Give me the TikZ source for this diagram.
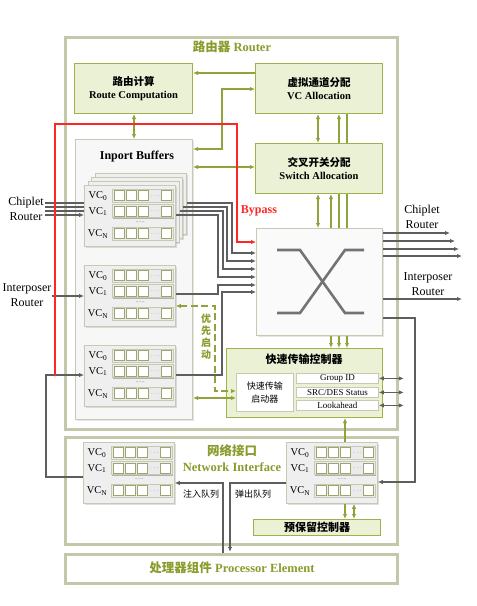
\documentclass[tikz,border=0pt]{standalone}
\usepackage{fontspec}
\setmainfont{Liberation Serif}
\newfontfamily\cjk{Noto Sans CJK SC}
\usetikzlibrary{arrows.meta,shadows}
\definecolor{olv}{HTML}{8FA33B}
\definecolor{olvtext}{HTML}{8A9C2C}
\definecolor{gfill}{HTML}{EBF1D5}
\definecolor{gdraw}{HTML}{9DB24A}
\definecolor{odraw}{HTML}{C3C8AB}
\definecolor{cdraw}{HTML}{C6C9B4}
\definecolor{cfill}{HTML}{EFEFEF}
\definecolor{lgray}{HTML}{5E5E5E}
\definecolor{rline}{HTML}{FF2626}
\definecolor{celld}{HTML}{9EA56E}
\newcommand{\myfs}[1]{\fontsize{#1}{#1}\selectfont}
\tikzset{
 outerbox/.style={draw=odraw, line width=2.5pt, fill=white, anchor=north west, inner sep=0pt},
 gbox/.style={draw=gdraw, line width=1pt, fill=gfill, anchor=north west, inner sep=0pt, align=center},
 card/.style={draw=cdraw, line width=0.8pt, fill=cfill, anchor=north west, inner sep=0pt, minimum width=91pt, minimum height=61pt, drop shadow={opacity=0.25, shadow xshift=1.2pt, shadow yshift=-1.2pt}},
 wbox/.style={draw=cdraw, line width=0.8pt, fill=white, anchor=north west, inner sep=0pt, align=center},
 oa/.style={draw=olv, line width=1.2pt, -{Latex[length=5pt,width=4.5pt]}},
 od/.style={draw=olv, line width=1.2pt, {Latex[length=5pt,width=4.5pt]}-{Latex[length=5pt,width=4.5pt]}},
 ol/.style={draw=olv, line width=1.2pt},
 ga/.style={draw=lgray, line width=1.2pt, -{Latex[length=5pt,width=4.5pt]}},
 gd/.style={draw=lgray, line width=1.2pt, {Latex[length=5pt,width=4.5pt]}-{Latex[length=5pt,width=4.5pt]}},
 gl/.style={draw=lgray, line width=1.2pt},
 ra/.style={draw=rline, line width=1.2pt, -{Latex[length=5pt,width=4.5pt]}},
 ttl/.style={text=olvtext, font=\myfs{12.5}\bfseries, inner sep=0pt},
 lbl/.style={font=\fontsize{12}{14.5}\selectfont, align=center, inner sep=0pt},
}
\newcommand{\vcrow}[3]{%
  \node[font=\myfs{10.5}, inner sep=0pt] at ({#1+14},{#2}) {VC\textsubscript{#3}};
  \fill[black!30] ({#1+29.2},{#2-5.8}) rectangle ({#1+90.2},{#2+7.2});
  \draw[draw=cdraw, fill=black!8, line width=0.6pt] ({#1+28},{#2-7}) rectangle ({#1+89},{#2+6});
  \foreach \cx in {30,42,54,77}{%
    \draw[draw=celld, fill=white, line width=0.7pt] ({#1+\cx},{#2-5.3}) rectangle ({#1+\cx+10.3},{#2+4.8});}
  \node[font=\myfs{6}, inner sep=0pt, text=black!55] at ({#1+71.5},{#2-0.3}) {$\cdots$};
}
\newcommand{\vccard}[3]{%
  \node[card] (#1) at (#2,#3) {};
  \vcrow{#2}{#3+11}{0}
  \vcrow{#2}{#3+26.5}{1}
  \node[font=\myfs{6}, inner sep=0pt, text=black!50] at ({#2+56},{#3+37}) {......};
  \vcrow{#2}{#3+49}{N}
}
\begin{document}
\begin{tikzpicture}[x=1pt,y=-1pt]
\useasboundingbox (0,0) rectangle (477,606);
% outer boxes
\node[outerbox, minimum width=332pt, minimum height=392pt] (router) at (64,36) {};
\node[outerbox, minimum width=332pt, minimum height=107pt] (ni) at (64,436) {};
\node[outerbox, minimum width=332pt, minimum height=29pt] (pe) at (64,553) {};
\node[ttl] (routertitle) at (232,47) {{\cjk 路由器} Router};
\node[ttl] (nititle) at (232,451) {\cjk 网络接口};
\node[ttl] (nititleen) at (232,467) {Network Interface};
\node[ttl] (petitle) at (232,568) {{\cjk 处理器组件} Processor Element};
% router blocks
\node[gbox, minimum width=118pt, minimum height=50pt, font=\fontsize{10.5}{13}\selectfont\bfseries] (rc) at (74,63) {{\cjk 路由计算}\\Route Computation};
\node[gbox, minimum width=127pt, minimum height=50pt, font=\fontsize{10.5}{13}\selectfont\bfseries] (vca) at (255,63) {{\cjk 虚拟通道分配}\\VC Allocation};
\node[gbox, minimum width=127pt, minimum height=50pt, font=\fontsize{10.5}{13}\selectfont\bfseries] (sa) at (255,143) {{\cjk 交叉开关分配}\\Switch Allocation};
\node[draw=cdraw, line width=1pt, fill=black!3, anchor=north west, inner sep=0pt, minimum width=117pt, minimum height=280pt, drop shadow={opacity=0.2, shadow xshift=1pt, shadow yshift=-1pt}] (inport) at (75,139) {};
\node[font=\myfs{12}\bfseries, inner sep=0pt] (inporttitle) at (137,157) {Inport Buffers};
\node[draw=cdraw, line width=1pt, fill=black!2, anchor=north west, inner sep=0pt, minimum width=126pt, minimum height=107pt, drop shadow={opacity=0.2, shadow xshift=1pt, shadow yshift=-1pt}] (xbar) at (256,228) {};
\draw[draw=black!55, line width=2.6pt] (277,250) -- (300,250) -- (345,313) -- (364,313);
\draw[draw=black!55, line width=2.6pt] (364,250) -- (345,250) -- (300,313) -- (277,313);
\node[gbox, minimum width=156pt, minimum height=69pt] (fast) at (226,348) {};
\node[font=\cjk\myfs{11}\bfseries, inner sep=0pt] (fasttitle) at (304,359) {快速传输控制器};
\node[wbox, minimum width=57pt, minimum height=38pt, font=\cjk\fontsize{9}{13}\selectfont] (starter) at (236,373) {快速传输\\启动器};
\node[wbox, minimum width=82pt, minimum height=10pt, font=\myfs{9}] (gid) at (296,373) {Group ID};
\node[wbox, minimum width=82pt, minimum height=10pt, font=\myfs{9}] (srcdes) at (296,387) {SRC/DES Status};
\node[wbox, minimum width=82pt, minimum height=10pt, font=\myfs{9}] (look) at (296,400) {Lookahead};
% VC cards
\node[card] (g1d) at (95,173) {};
\node[card] (g1c) at (91.3,177) {};
\node[card] (g1b) at (87.7,181) {};
\vccard{g1}{84}{185}
\vccard{g2}{84}{265}
\vccard{g3}{84}{345}
\vccard{nil}{83}{442}
\vccard{nir}{286}{442}
\node[gbox, minimum width=127pt, minimum height=16pt, font=\cjk\myfs{11}\bfseries] (resv) at (253,519) {预保留控制器};
% labels
\node[lbl] (chipin) at (26,209) {Chiplet\\Router};
\node[lbl] (interin) at (27,295) {Interposer\\Router};
\node[lbl] (chipout) at (422,217) {Chiplet\\Router};
\node[lbl] (interout) at (428,284) {Interposer\\Router};
\node[font=\myfs{12}\bfseries, text=rline, inner sep=0pt] (bypass) at (259,211) {Bypass};
\node[font=\cjk\fontsize{10}{12}\selectfont\bfseries, text=olvtext, align=center, inner sep=0pt] (prio) at (206,337) {优\\先\\启\\动};
\node[font=\cjk\myfs{9}, inner sep=0pt] (inj) at (201,494) {注入队列};
\node[font=\cjk\myfs{9}, inner sep=0pt] (ej) at (253,494) {弹出队列};
% olive connectors
\draw[oa] (vca.west |- 0,73) -- (rc.east |- 0,73);
\draw[od] (inport.east |- 0,149) -- (222,149) -- (222,89) -- (vca.west |- 0,89);
\draw[od] (inport.east |- 0,167) -- (sa.west |- 0,167);
\draw[od] (rc.south -| 134,0) -- (inport.north -| 134,0);
\draw[od] (vca.south -| 318,0) -- (sa.north -| 318,0);
\draw[oa] (sa.north -| 339,0) -- (vca.south -| 339,0);
\draw[ol] (sa.north -| 347,0) -- (vca.south -| 347,0);
\draw[od] (sa.south -| 318,0) -- (xbar.north -| 318,0);
\draw[oa] (xbar.north -| 331,0) -- (sa.south -| 331,0);
\draw[ol] (xbar.north -| 339,0) -- (sa.south -| 339,0);
\draw[ol] (xbar.north -| 347,0) -- (sa.south -| 347,0);
\foreach \xx in {331,339,347} \draw[oa] (xbar.south -| \xx,0) -- (fast.north -| \xx,0);
\draw[od] (inport.east |- 0,398) -- (starter.west |- 0,398);
\draw[od, dash pattern=on 7pt off 3.5pt] (g2.east |- 0,306) -- (215,306) -- (215,391) -- (starter.west |- 0,391);
\draw[oa] (nir.north -| 345,0) -- (fast.south -| 345,0);
\draw[oa] (nir.south -| 345,0) -- (resv.north -| 345,0);
\draw[od] (nir.south -| 354,0) -- (resv.north -| 354,0);
% gray connectors
\draw[ga] (g1d.east |- 0,203) -- (232,203) -- (232,253) -- (xbar.west |- 0,253);
\draw[ga] (g1c.east |- 0,207) -- (227,207) -- (227,261) -- (xbar.west |- 0,261);
\draw[ga] (g1b.east |- 0,211) -- (223,211) -- (223,269) -- (xbar.west |- 0,269);
\draw[ga] (g1.east |- 0,215) -- (218,215) -- (218,277) -- (xbar.west |- 0,277);
\draw[ga] (g2.east |- 0,294) -- (218,294) -- (218,285) -- (xbar.west |- 0,285);
\draw[ga] (g3.east |- 0,375) -- (222,375) -- (222,292) -- (xbar.west |- 0,292);
\foreach \yy in {203,207,211} \draw[gl] (45,\yy) -- (g1.west |- 0,\yy);
\draw[ga] (45,215) -- (g1.west |- 0,215);
\draw[ga] (52,296) -- (g2.west |- 0,296);
\draw[ga] (nil.west |- 0,477) -- (46,477) -- (46,375) -- (g3.west |- 0,375);
\draw[ga] (xbar.east |- 0,233) -- (450,233);
\draw[ga] (xbar.east |- 0,241) -- (455,241);
\draw[ga] (xbar.east |- 0,249) -- (459,249);
\draw[ga] (xbar.east |- 0,256) -- (462,256);
\draw[ga] (xbar.east |- 0,299) -- (462,299);
\draw[ga] (xbar.east |- 0,318) -- (415,318) -- (415,482) -- (nir.east |- 0,482);
\draw[ga, shorten >=1.2pt] (nir.west |- 0,483) -- (230,483) -- (pe.north -| 230,0);
\draw[ga] (pe.north -| 223,0) -- (223,483) -- (nil.east |- 0,483);
\draw[gd] (gid.east) -- ++(25,0);
\draw[gd] (srcdes.east) -- ++(25,0);
\draw[gd] (look.east) -- ++(25,0);
% bypass
\draw[ra] (55,375) -- (55,124) -- (237,124) -- (237,242) -- (xbar.west |- 0,242);
\foreach \yy in {203,207,211,215,296,375} \fill[rline] (55,\yy) circle[radius=1.4pt];
\end{tikzpicture}
\end{document}
